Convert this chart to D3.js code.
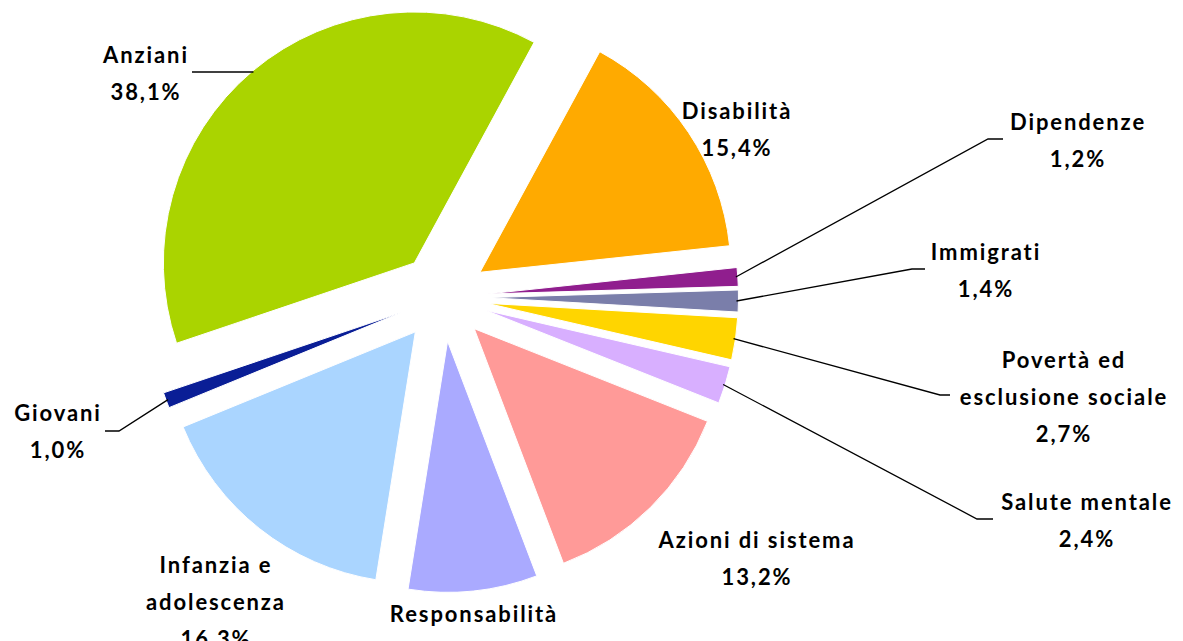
<!DOCTYPE html>
<html>
<head>
<meta charset="utf-8">
<script src="https://cdn.jsdelivr.net/npm/d3@7"></script>
<style>
  html, body { margin: 0; padding: 0; background: #fff; }
  svg { display: block; }
  .lbl { font-family: Lato, "Open Sans", sans-serif; font-weight: bold; font-size: 22px; fill: #000; letter-spacing: 1.9px; }
  .leader { fill: none; stroke: #000; stroke-width: 1.3px; }
</style>
</head>
<body>
<div id="chart"></div>
<script>
// data
var categories = ["Anziani", "Disabilità", "Dipendenze", "Immigrati", "Povertà ed esclusione sociale",
                  "Salute mentale", "Azioni di sistema", "Responsabilità familiari", "Infanzia e adolescenza", "Giovani"];
var values = [38.1, 15.4, 1.2, 1.4, 2.7, 2.4, 13.2, 8.3, 16.3, 1.0];
var labelLines = [["Anziani"], ["Disabilità"], ["Dipendenze"], ["Immigrati"], ["Povertà ed", "esclusione sociale"],
                  ["Salute mentale"], ["Azioni di sistema"], ["Responsabilità", "familiari"], ["Infanzia e", "adolescenza"], ["Giovani"]];
var colors = ["#AAD400", "#FFAA00", "#901E8E", "#7A7EAA", "#FFD500", "#D8AFFF", "#FF9A98", "#AAAAFF", "#AAD5FF", "#0A1E96"];

// layout: label centre x / first baseline, leader end + elbow
var labelAt = [[146, 63], [737, 118.5], [1078, 130], [986, 260], [1064, 368],
               [1087, 510], [757, 548], [474, 622], [216, 573], [58, 421]];
var leaders = [
  {i: 0, end: [192, 72], elbow: null},
  {i: 2, end: [1003, 139], elbow: [988, 139]},
  {i: 3, end: [925, 269], elbow: [912, 269]},
  {i: 4, end: [950, 395], elbow: [940, 395]},
  {i: 5, end: [993, 519], elbow: [977, 519]},
  {i: 9, end: [105, 431], elbow: [119, 431]}
];

var width = 1183, height = 641;
var cx = 443, cy = 297, radius = 251, explode = 44.5;
var start = -108.66 * Math.PI / 180;
var lineH = 37;

var svg = d3.select("#chart").append("svg")
    .attr("width", width)
    .attr("height", height);

var pie = d3.pie().sort(null)
    .startAngle(start)
    .endAngle(start + 2 * Math.PI);
var arc = d3.arc().innerRadius(0).outerRadius(radius);

var slices = pie(values).map(function(d, i) {
  var mid = (d.startAngle + d.endAngle) / 2;
  d.i = i;
  d.ox = cx + explode * Math.sin(mid);
  d.oy = cy - explode * Math.cos(mid);
  d.mid = mid;
  return d;
});

svg.append("g").selectAll("path")
    .data(slices)
  .enter().append("path")
    .attr("transform", function(d) { return "translate(" + d.ox + "," + d.oy + ")"; })
    .attr("d", arc)
    .attr("fill", function(d) { return colors[d.i]; })
    .attr("stroke", "#fff")
    .attr("stroke-width", 1);

// leader lines
var fmt = d3.format(".1f");
leaders.forEach(function(l) {
  var s = slices[l.i], p;
  if (l.elbow) {
    p = [s.ox + radius * Math.sin(s.mid), s.oy - radius * Math.cos(s.mid)];
    p = [p[0] - 2 * Math.sin(s.mid), p[1] + 2 * Math.cos(s.mid)];
  } else {
    var dy = l.end[1] - s.oy;
    p = [s.ox - Math.sqrt(radius * radius - dy * dy) + 2, l.end[1]];
  }
  var pts = [p];
  if (l.elbow) pts.push(l.elbow);
  pts.push(l.end);
  svg.append("path")
      .attr("class", "leader")
      .attr("d", d3.line()(pts));
});

// labels
var lg = svg.append("g");
slices.forEach(function(s) {
  var lines = labelLines[s.i].concat([fmt(values[s.i]).replace(".", ",") + "%"]);
  var t = lg.append("text")
      .attr("class", "lbl")
      .attr("text-anchor", "middle");
  lines.forEach(function(txt, k) {
    t.append("tspan")
        .attr("x", labelAt[s.i][0])
        .attr("y", labelAt[s.i][1] + k * lineH)
        .text(txt);
  });
});
</script>
</body>
</html>
